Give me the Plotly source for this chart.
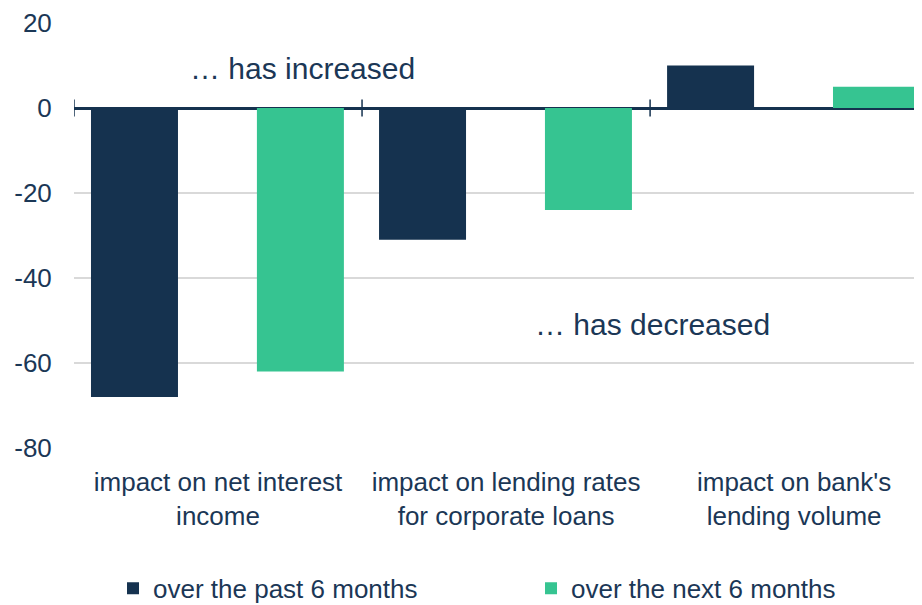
import plotly.graph_objects as go

categories = ["impact on net interest<br>income",
              "impact on lending rates<br>for corporate loans",
              "impact on bank's<br>lending volume"]
past_6m = [-68, -31, 10]
next_6m = [-62, -24, 5]
series_names = ["over the past 6 months", "over the next 6 months"]
y_ticks = [-80, -60, -40, -20, 0, 20]
y_ticktext = ["-80", "-60", "-40", "-20", "0", "20"]

NAVY = "#15324f"
GREEN = "#36c491"
TEXT = "#1b3756"
FONT = "Liberation Sans, Arial, sans-serif"

xpos = list(range(len(categories)))

fig = go.Figure()
fig.add_trace(go.Bar(x=xpos, y=past_6m, name=series_names[0], marker_color=NAVY,
                     offset=-0.441, width=0.302, marker_line_width=0))
fig.add_trace(go.Bar(x=xpos, y=next_6m, name=series_names[1], marker_color=GREEN,
                     offset=0.135, width=0.302, marker_line_width=0))

# boundary tick marks crossing the zero line
for i in range(len(categories)):
    fig.add_shape(type="line", xref="x", yref="y", x0=i - 0.5, x1=i - 0.5, y0=-2, y1=2,
                  line=dict(color=NAVY, width=1.5), layer="above")

fig.add_annotation(x=0.295, y=9.4, text="… has increased", showarrow=False,
                   font=dict(size=30, color=TEXT, family=FONT))
fig.add_annotation(x=1.507, y=-51, text="… has decreased", showarrow=False,
                   font=dict(size=30, color=TEXT, family=FONT))

fig.update_layout(
    width=914, height=597,
    margin=dict(l=66, r=0, t=15, b=157, autoexpand=False),
    paper_bgcolor="white", plot_bgcolor="white",
    barmode="overlay",
    font=dict(family=FONT, size=26, color=TEXT),
    showlegend=True,
    legend=dict(orientation="h", x=0.046, xanchor="left", y=-0.33, yanchor="middle",
                font=dict(size=26, color=TEXT), entrywidth=373, itemwidth=30,
                traceorder="normal"),
    xaxis=dict(range=[-0.5, 2.444], tickvals=xpos, ticktext=categories,
               showgrid=False, zeroline=False, showline=False, automargin=False,
               ticks="outside", ticklen=11, tickcolor="rgba(0,0,0,0)",
               tickfont=dict(size=26, color=TEXT)),
    yaxis=dict(range=[-80, 20], tickvals=y_ticks, ticktext=y_ticktext,
               showgrid=True, gridcolor="#d9d9d9", automargin=False,
               gridwidth=1.5, zeroline=True, zerolinecolor=NAVY, zerolinewidth=3,
               showline=False, ticks="outside", ticklen=16, tickcolor="rgba(0,0,0,0)",
               tickfont=dict(size=26, color=TEXT)),
)

fig.write_html("out.html")
